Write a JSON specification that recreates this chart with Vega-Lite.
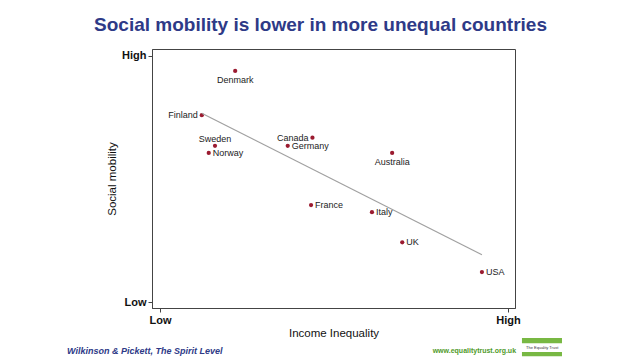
{
  "$schema": "https://vega.github.io/schema/vega-lite/v6.json",
  "autosize": {"type": "none"},
  "width": 363,
  "height": 259,
  "padding": {"left": 152, "top": 49, "right": 125, "bottom": 54},
  "background": "white",
  "title": {
    "text": "Social mobility is lower in more unequal countries",
    "font": "Liberation Sans",
    "fontSize": 19,
    "fontWeight": "bold",
    "color": "#2e3a87",
    "anchor": "middle",
    "dx": -13,
    "offset": 14
  },
  "config": {
    "view": {"stroke": "#444", "strokeWidth": 1},
    "font": "Liberation Sans"
  },
  "data": {
    "values": [
      {"country": "Denmark", "inequality": 0.216, "mobility": 0.939},
      {"country": "Finland", "inequality": 0.120, "mobility": 0.759},
      {"country": "Sweden", "inequality": 0.158, "mobility": 0.635},
      {"country": "Norway", "inequality": 0.140, "mobility": 0.606},
      {"country": "Canada", "inequality": 0.438, "mobility": 0.668},
      {"country": "Germany", "inequality": 0.367, "mobility": 0.635},
      {"country": "Australia", "inequality": 0.667, "mobility": 0.606},
      {"country": "France", "inequality": 0.434, "mobility": 0.394},
      {"country": "Italy", "inequality": 0.609, "mobility": 0.365},
      {"country": "UK", "inequality": 0.696, "mobility": 0.243},
      {"country": "USA", "inequality": 0.925, "mobility": 0.122}
    ]
  },
  "layer": [
    {
      "mark": {"type": "circle", "color": "#9b1b30", "opacity": 1, "size": 18},
      "encoding": {
        "x": {
          "field": "inequality",
          "type": "quantitative",
          "scale": {"domain": [-0.023, 1.020], "nice": false, "zero": false},
          "axis": {
            "title": "Income Inequality",
            "titleFont": "Liberation Sans",
            "titleFontSize": 11.5,
            "titleFontWeight": "normal",
            "titleColor": "#111",
            "titlePadding": 2,
            "values": [0, 1],
            "labelExpr": "datum.value == 0 ? 'Low' : 'High'",
            "labelFontSize": 11,
            "labelFontWeight": "bold",
            "labelColor": "#111",
            "labelPadding": 2,
            "tickSize": 4,
            "tickColor": "#444",
            "domainColor": "#444",
            "grid": false
          }
        },
        "y": {
          "field": "mobility",
          "type": "quantitative",
          "scale": {"domain": [-0.024, 1.028], "nice": false, "zero": false},
          "axis": {
            "title": "Social mobility",
            "titleFont": "Liberation Sans",
            "titleFontSize": 11.5,
            "titleFontWeight": "normal",
            "titleColor": "#111",
            "titlePadding": 4,
            "values": [0, 1],
            "labelExpr": "datum.value == 0 ? 'Low' : 'High'",
            "labelFontSize": 11,
            "labelFontWeight": "bold",
            "labelColor": "#111",
            "labelPadding": 2,
            "tickSize": 4,
            "tickColor": "#444",
            "domainColor": "#444",
            "grid": false
          }
        }
      }
    },
    {
      "transform": [{"regression": "mobility", "on": "inequality"}],
      "mark": {"type": "line", "color": "#a0a0a0", "strokeWidth": 1.2},
      "encoding": {
        "x": {"field": "inequality", "type": "quantitative"},
        "y": {"field": "mobility", "type": "quantitative"}
      }
    },
    {
      "transform": [{"filter": "indexof(['Norway','Germany','France','Italy','UK','USA'], datum.country) >= 0"}],
      "mark": {"type": "text", "align": "left", "baseline": "middle", "dx": 4, "fontSize": 9, "color": "#222"},
      "encoding": {
        "x": {"field": "inequality", "type": "quantitative"},
        "y": {"field": "mobility", "type": "quantitative"},
        "text": {"field": "country"}
      }
    },
    {
      "transform": [{"filter": "indexof(['Finland','Canada'], datum.country) >= 0"}],
      "mark": {"type": "text", "align": "right", "baseline": "middle", "dx": -4, "fontSize": 9, "color": "#222"},
      "encoding": {
        "x": {"field": "inequality", "type": "quantitative"},
        "y": {"field": "mobility", "type": "quantitative"},
        "text": {"field": "country"}
      }
    },
    {
      "transform": [{"filter": "indexof(['Denmark','Australia'], datum.country) >= 0"}],
      "mark": {"type": "text", "align": "center", "baseline": "middle", "dy": 9, "fontSize": 9, "color": "#222"},
      "encoding": {
        "x": {"field": "inequality", "type": "quantitative"},
        "y": {"field": "mobility", "type": "quantitative"},
        "text": {"field": "country"}
      }
    },
    {
      "transform": [{"filter": "datum.country == 'Sweden'"}],
      "mark": {"type": "text", "align": "center", "baseline": "middle", "dy": -7, "fontSize": 9, "color": "#222"},
      "encoding": {
        "x": {"field": "inequality", "type": "quantitative"},
        "y": {"field": "mobility", "type": "quantitative"},
        "text": {"field": "country"}
      }
    },
    {
      "data": {"values": [{"note": "Wilkinson & Pickett, The Spirit Level"}]},
      "mark": {"type": "text", "align": "left", "baseline": "middle", "clip": false, "font": "Liberation Sans", "fontSize": 9, "fontWeight": "bold", "fontStyle": "italic", "color": "#2e3a87"},
      "encoding": {
        "x": {"datum": -0.267, "type": "quantitative"},
        "y": {"datum": -0.198, "type": "quantitative"},
        "text": {"field": "note"}
      }
    },
    {
      "data": {"values": [{"note": "www.equalitytrust.org.uk"}]},
      "mark": {"type": "text", "align": "right", "baseline": "middle", "clip": false, "font": "Liberation Sans", "fontSize": 7, "fontWeight": "bold", "color": "#4f9a2a"},
      "encoding": {
        "x": {"datum": 1.023, "type": "quantitative"},
        "y": {"datum": -0.199, "type": "quantitative"},
        "text": {"field": "note"}
      }
    },
    {
      "data": {"values": [{"bar": "top", "lo": -0.146, "hi": -0.167, "left": 1.040, "right": 1.155}, {"bar": "bottom", "lo": -0.203, "hi": -0.220, "left": 1.040, "right": 1.155}]},
      "mark": {"type": "rect", "color": "#78b843", "clip": false},
      "encoding": {
        "x": {"field": "left", "type": "quantitative"},
        "x2": {"field": "right"},
        "y": {"field": "lo", "type": "quantitative"},
        "y2": {"field": "hi"}
      }
    },
    {
      "data": {"values": [{"note": "The Equality Trust"}]},
      "mark": {"type": "text", "align": "center", "baseline": "middle", "clip": false, "font": "Liberation Sans", "fontSize": 4, "color": "#333"},
      "encoding": {
        "x": {"datum": 1.098, "type": "quantitative"},
        "y": {"datum": -0.185, "type": "quantitative"},
        "text": {"field": "note"}
      }
    }
  ]
}
